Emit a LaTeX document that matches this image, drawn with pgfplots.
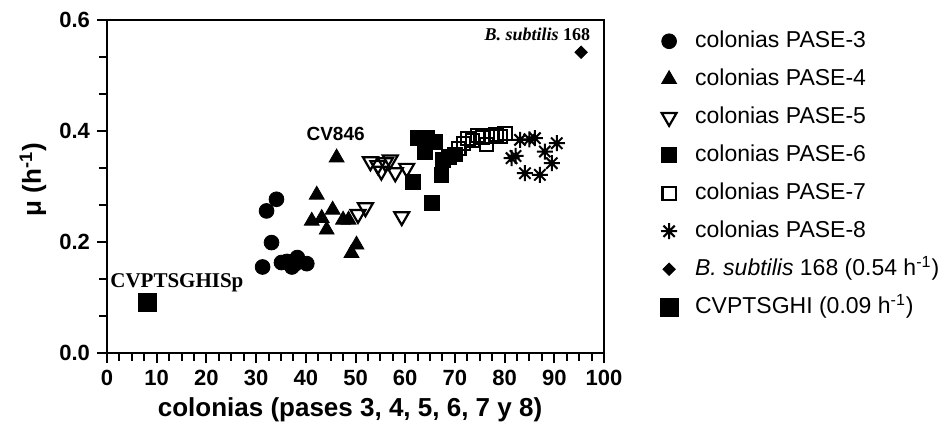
\documentclass[border=0pt]{standalone}
\usepackage{fontspec}
\setmainfont{Liberation Sans}
\newfontfamily\serifbf{Liberation Serif}
\usepackage{pgfplots}
\pgfplotsset{compat=1.18}

% eight-armed asterisk for PASE-8
\pgfdeclareplotmark{ast8}{%
  \pgfpathmoveto{\pgfqpoint{0pt}{\pgfplotmarksize}}%
  \pgfpathlineto{\pgfqpoint{0pt}{-\pgfplotmarksize}}%
  \pgfpathmoveto{\pgfqpoint{\pgfplotmarksize}{0pt}}%
  \pgfpathlineto{\pgfqpoint{-\pgfplotmarksize}{0pt}}%
  \pgfpathmoveto{\pgfqpoint{0.707\pgfplotmarksize}{0.707\pgfplotmarksize}}%
  \pgfpathlineto{\pgfqpoint{-0.707\pgfplotmarksize}{-0.707\pgfplotmarksize}}%
  \pgfpathmoveto{\pgfqpoint{-0.707\pgfplotmarksize}{0.707\pgfplotmarksize}}%
  \pgfpathlineto{\pgfqpoint{0.707\pgfplotmarksize}{-0.707\pgfplotmarksize}}%
  \pgfusepathqstroke}

\begin{document}
\begin{tikzpicture}
\useasboundingbox (-53.5pt,-41.5pt) rectangle (420pt,176.5pt);
\begin{axis}[
    scale only axis,
    width=248.5pt, height=166.5pt,
    xmin=0, xmax=100, ymin=0, ymax=0.6,
    xtick={0,10,...,100},
    ytick={0,0.2,0.4,0.6},
    minor x tick num=3,
    minor y tick num=2,
    axis x line*=bottom, axis y line*=left,
    separate axis lines,
    every outer x axis line/.append style={line width=1.2pt},
    every outer y axis line/.append style={line width=1.2pt},
    tick align=outside,
    major tick length=5pt, minor tick length=4pt,
    every tick/.style={black, line width=1pt},
    yticklabel style={/pgf/number format/.cd, fixed, fixed zerofill, precision=1},
    ticklabel style={font=\fontsize{11}{13}\selectfont\bfseries},
    /pgf/number format/assume math mode=true,
    xlabel={colonias (pases 3, 4, 5, 6, 7 y 8)},
    xlabel style={font=\fontsize{13}{15}\selectfont\bfseries, at={(axis description cs:0.489,-0.171)}, anchor=center},
    ylabel={μ (h\textsuperscript{-1})},
    ylabel style={font=\fontsize{13}{15}\selectfont\bfseries, at={(axis description cs:-0.149,0.52)}, anchor=center},
    clip=false,
    legend cell align=left,
    legend style={draw=none, fill=none, at={(axis description cs:1.10,0.996)}, anchor=north west,
        font=\fontsize{11.5}{13}\selectfont, row sep=3.5pt, column sep=6.5pt,
        nodes={text height=9pt, text depth=2.5pt, inner sep=2pt}},
]
% extra frame lines (top and right)
\draw[line width=1.2pt] (rel axis cs:0,1) -- (rel axis cs:1,1) -- (rel axis cs:1,0);

\addplot[only marks, mark=*, mark size=3.7pt, black] coordinates {
 (34.1,0.277) (32.1,0.256) (33.1,0.199) (31.3,0.155) (35.1,0.163)
 (36.2,0.165) (37.2,0.155) (38.3,0.172) (40.2,0.161) (37.8,0.160)};
\addlegendentry{colonias PASE-3}

\addplot[only marks, mark=triangle*, mark size=4.3pt, black] coordinates {
 (46.2,0.352) (42.2,0.285) (41.2,0.238) (43.2,0.243) (45.4,0.258)
 (44.2,0.222) (47.5,0.240) (48.6,0.240) (50.2,0.195) (49.2,0.180)};
\addlegendentry{colonias PASE-4}

\addplot[only marks, mark=triangle, mark size=4.3pt, black, mark options={rotate=180, line width=1.1pt, fill=white}] coordinates {
 (50.5,0.250) (52.0,0.262) (53.0,0.345) (54.5,0.338) (55.2,0.328)
 (57.0,0.348) (58.0,0.325) (56.0,0.343) (60.3,0.333) (59.3,0.246)};
\addlegendentry{colonias PASE-5}

\addplot[only marks, mark=square*, mark size=3.7pt, black] coordinates {
 (62.6,0.387) (64.3,0.388) (66.0,0.381) (64.0,0.362) (61.6,0.309)
 (67.3,0.321) (65.3,0.270) (67.6,0.348) (68.8,0.353) (70.0,0.358)};
\addlegendentry{colonias PASE-6}

\addplot[only marks, mark=square, mark size=3.3pt, black, mark options={line width=1.1pt, fill=white}] coordinates {
 (70.8,0.368) (71.7,0.378) (72.6,0.387) (73.6,0.383) (74.6,0.392)
 (75.6,0.388) (76.4,0.376) (77.3,0.391) (78.3,0.393) (79.2,0.390) (80.1,0.395)};
\addlegendentry{colonias PASE-7}

\addplot[only marks, mark=ast8, mark size=4pt, black, mark options={line width=1pt}] coordinates {
 (83.1,0.384) (86.1,0.387) (85.0,0.385) (90.5,0.378) (81.4,0.351)
 (82.2,0.355) (88.1,0.363) (89.5,0.342) (84.1,0.324) (87.1,0.321)};
\addlegendentry{colonias PASE-8}

\addplot[only marks, mark=square*, mark size=2.2pt, black, mark options={rotate=45}] coordinates {(95.4,0.542)};
\addlegendentry{\textit{B. subtilis} 168 (0.54 h\textsuperscript{-1})}

\addplot[only marks, mark=square*, mark size=4.5pt, black] coordinates {(8.2,0.092)};
\addlegendentry{CVPTSGHI (0.09 h\textsuperscript{-1})}

\node[anchor=east, inner sep=0pt, font=\serifbf\fontsize{9}{11}\selectfont] at (axis cs:97.3,0.575) {\textbf{\textit{B. subtilis}} \textbf{168}};
\node[font=\fontsize{9.5}{11}\selectfont\bfseries] at (axis cs:46,0.395) {CV846};
\node[anchor=west, inner sep=0pt, font=\serifbf\fontsize{10.5}{12}\selectfont\bfseries] at (axis cs:0.6,0.126) {CVPTSGHISp};
\end{axis}
\end{tikzpicture}
\end{document}
